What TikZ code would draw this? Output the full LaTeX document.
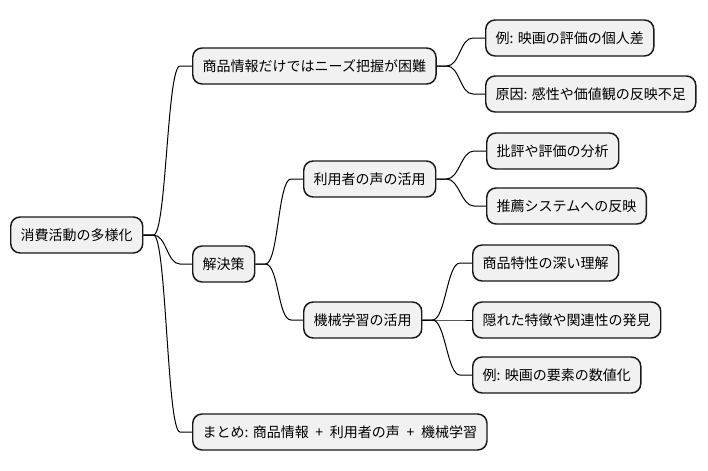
\documentclass[tikz,border=0pt]{standalone}
\usepackage{fontspec}
\setmainfont{Noto Sans CJK JP}
\usepackage{xcolor}
\usepackage{tikz}
\definecolor{boxfill}{HTML}{F1F1F1}
\definecolor{boxline}{HTML}{181818}
\tikzset{
    topic/.style={rectangle, rounded corners=7pt, draw=boxline, line width=1.1pt, fill=boxfill, anchor=west, minimum height=27pt, inner xsep=7.5pt, font=\fontsize{10.5}{12}\selectfont},
    branch/.style={line width=0.75pt, draw=black, to path={-- ++(10,0) .. controls +(13,0) and +(-13,0) .. ([xshift=-9pt]\tikztotarget) -- (\tikztotarget)}}
}
\begin{document}
\begin{tikzpicture}[x=0.75pt, y=-0.75pt]
  \useasboundingbox (0,0) rectangle (708,471);
  \node[topic] (root) at (10,235) {消費活動の多様化};
  \node[topic] (hard) at (192,66) {商品情報だけではニーズ把握が困難};
  \node[topic] (sol) at (192,264) {解決策};
  \node[topic] (sum) at (192,432) {まとめ: 商品情報\hspace{5pt}+\hspace{5pt}利用者の声\hspace{5pt}+\hspace{5pt}機械学習};
  \node[topic] (voice) at (303,179) {利用者の声の活用};
  \node[topic] (ml) at (303,320) {機械学習の活用};
  \node[topic] (ex1) at (485,38) {例: 映画の評価の個人差};
  \node[topic] (cause) at (485,94) {原因: 感性や価値観の反映不足};
  \node[topic] (crit) at (486,151) {批評や評価の分析};
  \node[topic] (rec) at (486,206) {推薦システムへの反映};
  \node[topic] (deep) at (472,263) {商品特性の深い理解};
  \node[topic] (hidden) at (472,320) {隠れた特徴や関連性の発見};
  \node[topic] (ex2) at (472,375) {例: 映画の要素の数値化};
  \draw[branch] (root.east) to (hard.west);
  \draw[branch] (root.east) to (sol.west);
  \draw[branch] (root.east) to (sum.west);
  \draw[branch] (hard.east) to (ex1.west);
  \draw[branch] (hard.east) to (cause.west);
  \draw[branch] (sol.east) to (voice.west);
  \draw[branch] (sol.east) to (ml.west);
  \draw[branch] (voice.east) to (crit.west);
  \draw[branch] (voice.east) to (rec.west);
  \draw[branch] (ml.east) to (deep.west);
  \draw[branch] (ml.east) to (hidden.west);
  \draw[branch] (ml.east) to (ex2.west);
\end{tikzpicture}
\end{document}
